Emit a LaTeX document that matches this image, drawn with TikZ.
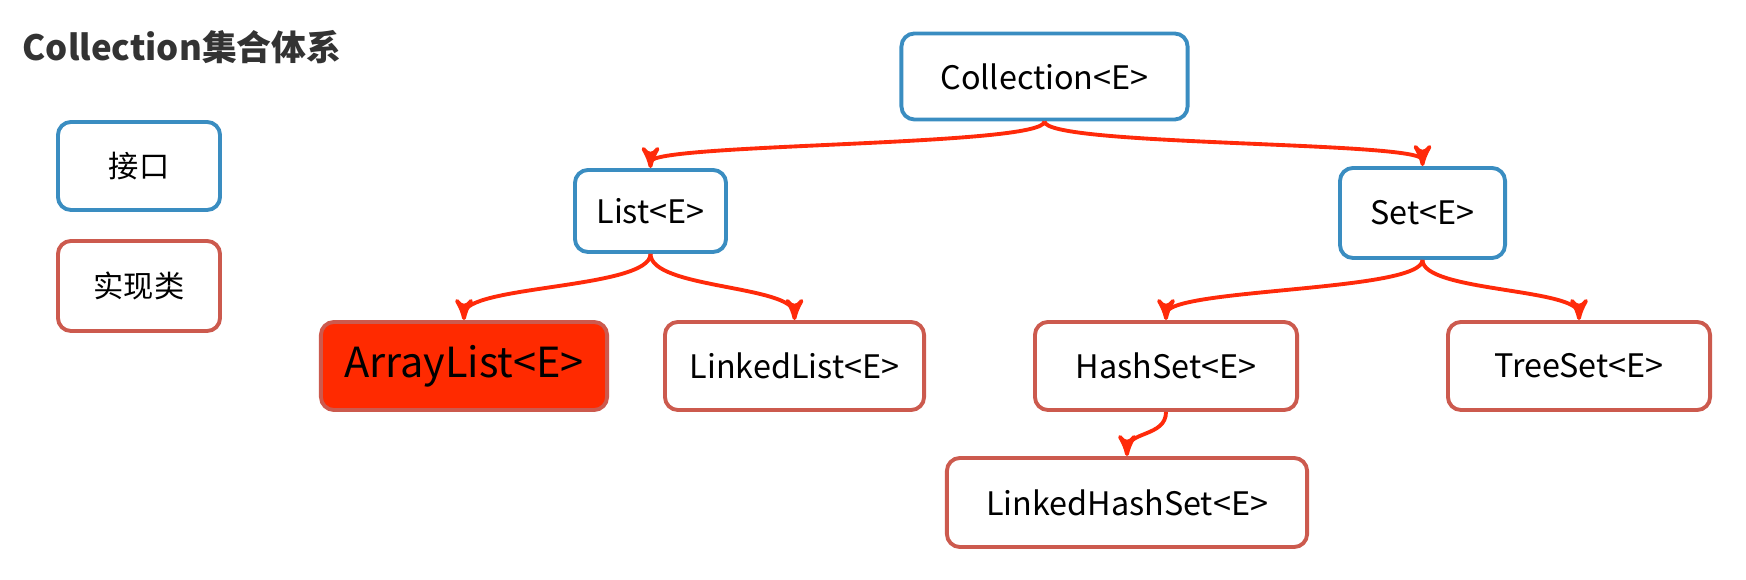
\documentclass[tikz,border=0pt]{standalone}
\usepackage{fontspec}
\setmainfont{Noto Sans CJK SC}
\usetikzlibrary{arrows}

\definecolor{ifaceblue}{RGB}{58,141,193}
\definecolor{implred}{RGB}{204,90,78}
\definecolor{arrowred}{RGB}{255,42,10}
\definecolor{fillred}{RGB}{255,42,0}
\definecolor{titlegray}{RGB}{51,51,51}

\begin{document}
\begin{tikzpicture} [x=0.01cm, y=-0.01cm,
 box/.style={draw, line width=1.1pt, rounded corners=0.13cm, fill=white, inner sep=0, font=\fontsize{9.2}{11}\selectfont},
 iface/.style={box, draw=ifaceblue},
 impl/.style={box, draw=implred},
 conn/.style={arrowred, line width=1.1pt, ->, >=stealth'}]
\useasboundingbox (0,0) rectangle (1746,580);
\node[anchor=base west, inner sep=0, text=titlegray, font=\bfseries\fontsize{9.9}{12}\selectfont] (title) at (22,61) {Collection集合体系};
% legend
\node[iface, minimum width=1.62cm, minimum height=0.88cm, font=\fontsize{8.6}{10}\selectfont] (ifacekey) at (139,166) {接口};
\node[impl, minimum width=1.62cm, minimum height=0.9cm, font=\fontsize{8.6}{10}\selectfont] (implkey) at (139,286) {实现类};
% interfaces
\node[iface, minimum width=2.86cm, minimum height=0.86cm] (coll) at (1044.5,76.5) {Collection<E>};
\node[iface, minimum width=1.51cm, minimum height=0.82cm] (list) at (650.5,211) {List<E>};
\node[iface, minimum width=1.65cm, minimum height=0.9cm] (set) at (1422.5,213) {Set<E>};
% implementations
\node[impl, fill=fillred, minimum width=2.86cm, minimum height=0.88cm, font=\fontsize{11.8}{14}\selectfont] (arraylist) at (464,366) {ArrayList<E>};
\node[impl, minimum width=2.59cm, minimum height=0.88cm] (linkedlist) at (794.5,366) {LinkedList<E>};
\node[impl, minimum width=2.62cm, minimum height=0.88cm] (hashset) at (1166,366) {HashSet<E>};
\node[impl, minimum width=2.62cm, minimum height=0.88cm] (treeset) at (1579,366) {TreeSet<E>};
\node[impl, minimum width=3.6cm, minimum height=0.89cm] (linkedhashset) at (1127,502.5) {LinkedHashSet<E>};
% connectors
\draw[conn] (coll.south) .. controls +(0,25) and +(0,-25) .. (list.north);
\draw[conn] (coll.south) .. controls +(0,25) and +(0,-25) .. (set.north);
\draw[conn] (list.south) .. controls +(0,35) and +(0,-35) .. (arraylist.north);
\draw[conn] (list.south) .. controls +(0,35) and +(0,-35) .. (linkedlist.north);
\draw[conn] (set.south) .. controls +(0,32) and +(0,-32) .. (hashset.north);
\draw[conn] (set.south) .. controls +(0,32) and +(0,-32) .. (treeset.north);
\draw[conn] (hashset.south) .. controls +(0,25) and +(0,-25) .. (linkedhashset.north);
\end{tikzpicture}
\end{document}
